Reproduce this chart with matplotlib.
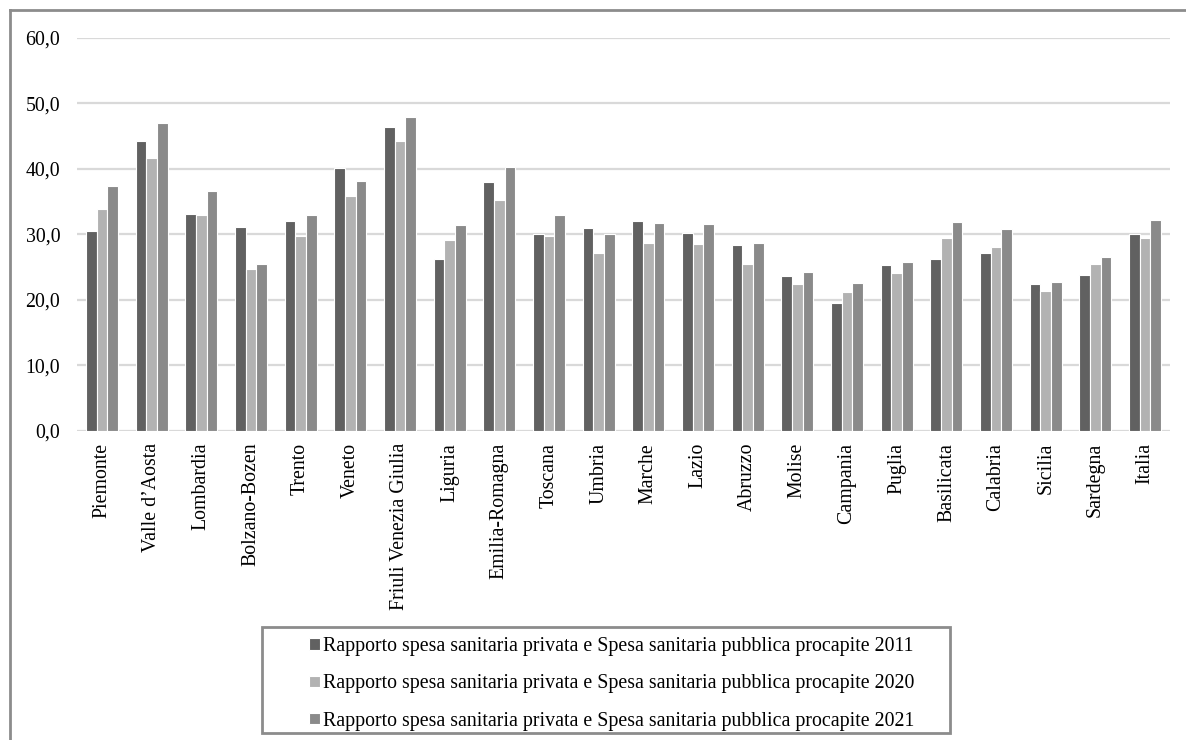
import numpy as np
import matplotlib
matplotlib.use('Agg')
import matplotlib.pyplot as plt
from matplotlib.patches import Rectangle
from matplotlib.lines import Line2D
from matplotlib.ticker import FuncFormatter

plt.rcParams['font.family'] = ['Liberation Serif', 'DejaVu Serif']

regions = ['Piemonte', 'Valle d\u2019Aosta', 'Lombardia', 'Bolzano-Bozen', 'Trento', 'Veneto',
           'Friuli Venezia Giulia', 'Liguria', 'Emilia-Romagna', 'Toscana', 'Umbria', 'Marche',
           'Lazio', 'Abruzzo', 'Molise', 'Campania', 'Puglia', 'Basilicata', 'Calabria',
           'Sicilia', 'Sardegna', 'Italia']

ratio_2011 = [30.5, 44.2, 33.1, 31.1, 32.0, 40.1, 46.4, 26.3, 37.9, 30.1, 31.0, 32.0,
              30.2, 28.3, 23.7, 19.5, 25.3, 26.3, 27.1, 22.4, 23.8, 30.1]
ratio_2020 = [33.8, 41.6, 32.9, 24.7, 29.7, 35.8, 44.2, 29.1, 35.2, 29.7, 27.2, 28.6,
              28.5, 25.5, 22.4, 21.2, 24.1, 29.5, 28.0, 21.4, 25.4, 29.5]
ratio_2021 = [37.4, 47.0, 36.6, 25.5, 32.9, 38.1, 47.9, 31.4, 40.3, 33.0, 30.1, 31.7,
              31.5, 28.7, 24.2, 22.5, 25.7, 31.9, 30.8, 22.7, 26.6, 32.2]

series_labels = ['Rapporto spesa sanitaria privata e Spesa sanitaria pubblica procapite 2011',
                 'Rapporto spesa sanitaria privata e Spesa sanitaria pubblica procapite 2020',
                 'Rapporto spesa sanitaria privata e Spesa sanitaria pubblica procapite 2021']
colors = ['#616161', '#b2b2b2', '#8a8a8a']

W, H = 1186, 740
fig = plt.figure(figsize=(W / 100, H / 100), dpi=100)
ax = fig.add_axes([77 / W, 1 - 431 / H, (1170 - 77) / W, (431 - 37.5) / H])

x = np.arange(len(regions))
bw = 0.215
for i, vals in enumerate([ratio_2011, ratio_2020, ratio_2021]):
    ax.bar(x + (i - 1) * bw, vals, width=bw, color=colors[i], edgecolor='white',
           linewidth=0.8, zorder=3, label=series_labels[i])

ax.set_xlim(-0.5, len(regions) - 0.5)
ax.set_ylim(0, 60)
ax.set_yticks(np.arange(0, 61, 10))
ax.yaxis.set_major_formatter(FuncFormatter(lambda v, p: f'{v:.1f}'.replace('.', ',')))
ax.grid(axis='y', color='#d9d9d9', linewidth=1.6, zorder=0)
ax.set_axisbelow(True)
for s in ax.spines.values():
    s.set_visible(False)
ax.tick_params(axis='y', length=0, pad=12, labelsize=14.3)
ax.set_xticks(x)
ax.set_xticklabels(regions, rotation=90, fontsize=14.3)
ax.tick_params(axis='x', length=0, pad=8.5)

# outer frame (top and left edges only)
fig.add_artist(Line2D([10 / W, 1], [1 - 10 / H, 1 - 10 / H], color='#8c8c8c', linewidth=2,
                      transform=fig.transFigure))
fig.add_artist(Line2D([10 / W, 10 / W], [0, 1 - 10 / H], color='#8c8c8c', linewidth=2,
                      transform=fig.transFigure))

# legend box
fig.add_artist(Rectangle((262 / W, 1 - 733 / H), (950 - 262) / W, (733 - 627) / H,
                         fill=False, edgecolor='#8c8c8c', linewidth=2, transform=fig.transFigure))
handles, labels = ax.get_legend_handles_labels()
fig.legend(handles, labels, loc='upper left', bbox_to_anchor=(309 / W, 1 - 637 / H),
           frameon=False, fontsize=14.3, handlelength=0.55, handleheight=0.5,
           handletextpad=0.15, labelspacing=0.92, borderpad=0, borderaxespad=0)

fig.savefig('out.png', dpi=100)
